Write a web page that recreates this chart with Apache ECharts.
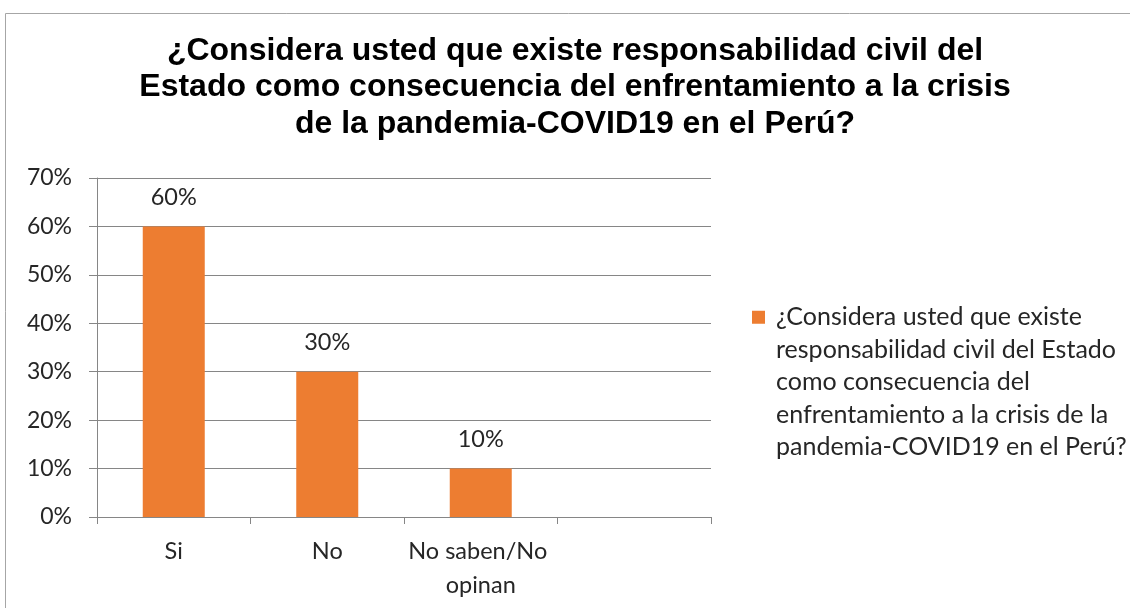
<!DOCTYPE html>
<html>
<head>
<meta charset="utf-8">
<script src="https://cdn.jsdelivr.net/npm/echarts@6/dist/echarts.min.js"></script>
<style>
  html, body { margin: 0; padding: 0; background: #fff; }
  #chart { width: 1130px; height: 608px; }
</style>
</head>
<body>
<div id="chart"></div>
<script>
// datos del gráfico
const chartTitle = '¿Considera usted que existe responsabilidad civil del\nEstado como consecuencia del enfrentamiento a la crisis\nde la pandemia-COVID19 en el Perú?';
const categories = ['Si', 'No', 'No saben/No opinan', ''];
const values = [60, 30, 10];
const seriesName = '¿Considera usted que existe responsabilidad civil del Estado como consecuencia del enfrentamiento a la crisis de la pandemia-COVID19 en el Perú?';
const legendLines = ['¿Considera usted que existe', 'responsabilidad civil del Estado', 'como consecuencia del', 'enfrentamiento a la crisis de la', 'pandemia-COVID19 en el Perú?'];

const chart = echarts.init(document.getElementById('chart'));

const option = {
    animation: false,
    title: {
        text: chartTitle,
        left: 575,
        top: 32.5,
        padding: 0,
        textAlign: 'center',
        textStyle: {
            fontFamily: 'Liberation Sans, Arial',
            fontWeight: 'bold',
            fontSize: 32,
            lineHeight: 36.5,
            color: '#000'
        }
    },
    graphic: [
        {
            type: 'rect',
            silent: true,
            shape: { x: 5.5, y: 13.5, width: 2000, height: 2000 },
            style: { fill: 'none', stroke: '#a6a6a6', lineWidth: 1 }
        }
    ],
    legend: {
        left: 752,
        top: 171,
        padding: 0,
        icon: 'rect',
        itemWidth: 13,
        itemHeight: 13,
        // líneas vacías delante para que el cuadrado quede a la altura de la primera línea
        formatter: function () {
            return '\n\n\n\n' + legendLines.join('\n');
        },
        textStyle: {
            fontFamily: 'Lato',
            fontSize: 25,
            lineHeight: 32.5,
            color: '#262626',
            padding: [0, 0, 0, 6]
        },
        data: [seriesName]
    },
    grid: {
        left: 97,
        right: 419,
        top: 178,
        bottom: 91
    },
    xAxis: {
        type: 'category',
        data: categories,
        axisLine: { lineStyle: { color: '#868686' } },
        axisTick: { show: true, length: 7, lineStyle: { color: '#868686' } },
        axisLabel: {
            interval: 0,
            margin: 17,
            width: 150,
            overflow: 'break',
            fontFamily: 'Lato',
            fontSize: 23.5,
            lineHeight: 34,
            color: '#262626'
        }
    },
    yAxis: {
        type: 'value',
        min: 0,
        max: 70,
        interval: 10,
        axisLine: { show: true, lineStyle: { color: '#868686' } },
        axisTick: { show: true, length: 8, lineStyle: { color: '#868686' } },
        splitLine: { lineStyle: { color: '#868686' } },
        axisLabel: {
            formatter: '{value}%',
            margin: 25,
            fontFamily: 'Lato',
            fontSize: 23,
            color: '#262626'
        }
    },
    series: [
        {
            name: seriesName,
            type: 'bar',
            data: values,
            barWidth: 62,
            itemStyle: { color: '#ED7D31' },
            label: {
                show: true,
                position: 'top',
                distance: 17,
                formatter: '{c}%',
                fontFamily: 'Lato',
                fontSize: 23.5,
                color: '#262626'
            }
        }
    ]
};

chart.setOption(option);
</script>
</body>
</html>
